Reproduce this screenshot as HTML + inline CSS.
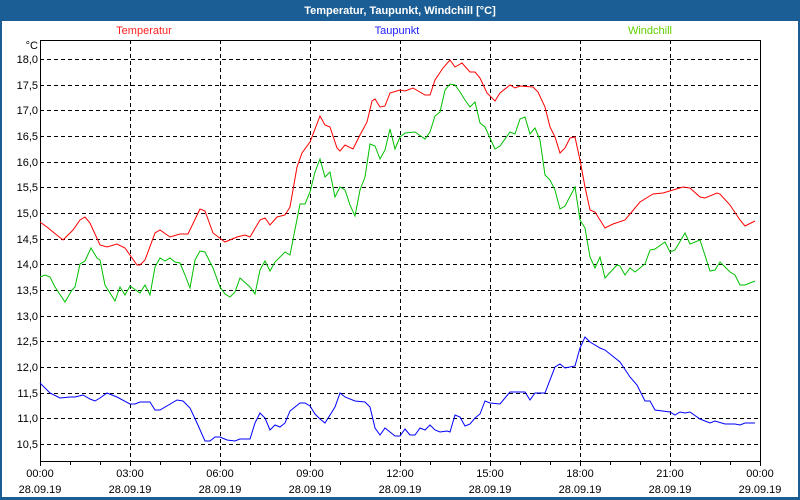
<!DOCTYPE html>
<html><head><meta charset="utf-8"><style>
html,body{margin:0;padding:0;background:#fff}
svg{display:block}
text{font-family:"Liberation Sans","DejaVu Sans",sans-serif;font-size:11px}
</style></head><body>
<svg width="800" height="500" viewBox="0 0 800 500" xmlns="http://www.w3.org/2000/svg">
<rect x="0" y="0" width="800" height="500" fill="#1b5e95"/>
<rect x="2" y="21" width="796" height="476" fill="#fff"/>
<text x="400" y="14" fill="#fff" font-weight="bold" text-anchor="middle">Temperatur, Taupunkt, Windchill [°C]</text>
<text x="144" y="34" fill="#ff2020" text-anchor="middle">Temperatur</text>
<text x="397" y="34" fill="#2020ff" text-anchor="middle">Taupunkt</text>
<text x="650" y="34" fill="#60d000" text-anchor="middle">Windchill</text>
<g stroke="#000" stroke-width="1" stroke-dasharray="4,3" shape-rendering="crispEdges">
<line x1="40" x2="760" y1="59.5" y2="59.5"/><line x1="40" x2="760" y1="85.5" y2="85.5"/><line x1="40" x2="760" y1="110.5" y2="110.5"/><line x1="40" x2="760" y1="136.5" y2="136.5"/><line x1="40" x2="760" y1="162.5" y2="162.5"/><line x1="40" x2="760" y1="187.5" y2="187.5"/><line x1="40" x2="760" y1="213.5" y2="213.5"/><line x1="40" x2="760" y1="239.5" y2="239.5"/><line x1="40" x2="760" y1="264.5" y2="264.5"/><line x1="40" x2="760" y1="290.5" y2="290.5"/><line x1="40" x2="760" y1="316.5" y2="316.5"/><line x1="40" x2="760" y1="341.5" y2="341.5"/><line x1="40" x2="760" y1="367.5" y2="367.5"/><line x1="40" x2="760" y1="393.5" y2="393.5"/><line x1="40" x2="760" y1="418.5" y2="418.5"/><line x1="40" x2="760" y1="444.5" y2="444.5"/>
<line y1="40" y2="461" x1="130.5" x2="130.5"/><line y1="40" y2="461" x1="220.5" x2="220.5"/><line y1="40" y2="461" x1="310.5" x2="310.5"/><line y1="40" y2="461" x1="400.5" x2="400.5"/><line y1="40" y2="461" x1="490.5" x2="490.5"/><line y1="40" y2="461" x1="580.5" x2="580.5"/><line y1="40" y2="461" x1="670.5" x2="670.5"/>
</g>
<rect x="40.5" y="40.5" width="720" height="421" fill="none" stroke="#000" shape-rendering="crispEdges"/>
<g stroke="#000" shape-rendering="crispEdges">
<path d="M40.5 461v5M70.5 461v4M100.5 461v4M130.5 461v5M160.5 461v4M190.5 461v4M220.5 461v5M250.5 461v4M280.5 461v4M310.5 461v5M340.5 461v4M370.5 461v4M400.5 461v5M430.5 461v4M460.5 461v4M490.5 461v5M520.5 461v4M550.5 461v4M580.5 461v5M610.5 461v4M640.5 461v4M670.5 461v5M700.5 461v4M730.5 461v4M760.5 461v5"/>
</g>
<g fill="#000" text-anchor="end">
<text x="38" y="49">°C</text>
<text x="38" y="63">18,0</text><text x="38" y="89">17,5</text><text x="38" y="114">17,0</text><text x="38" y="140">16,5</text><text x="38" y="166">16,0</text><text x="38" y="191">15,5</text><text x="38" y="217">15,0</text><text x="38" y="243">14,5</text><text x="38" y="268">14,0</text><text x="38" y="294">13,5</text><text x="38" y="320">13,0</text><text x="38" y="345">12,5</text><text x="38" y="371">12,0</text><text x="38" y="397">11,5</text><text x="38" y="422">11,0</text><text x="38" y="448">10,5</text>
</g>
<g fill="#000" text-anchor="middle">
<text x="40" y="477">00:00</text><text x="40" y="493">28.09.19</text>
<text x="130" y="477">03:00</text><text x="130" y="493">28.09.19</text>
<text x="220" y="477">06:00</text><text x="220" y="493">28.09.19</text>
<text x="310" y="477">09:00</text><text x="310" y="493">28.09.19</text>
<text x="400" y="477">12:00</text><text x="400" y="493">28.09.19</text>
<text x="490" y="477">15:00</text><text x="490" y="493">28.09.19</text>
<text x="580" y="477">18:00</text><text x="580" y="493">28.09.19</text>
<text x="670" y="477">21:00</text><text x="670" y="493">28.09.19</text>
<text x="760" y="477">00:00</text><text x="760" y="493">29.09.19</text>
</g>
<g fill="none" stroke-width="1">
<polyline stroke="#ff0000" points="40,222 47,227 53,232 63,240 73,230 80,220 85,217 90,223 100,245 107,247 117,244 125,248 137,265 140,265 145,260 155,233 160,230 170,237 180,234 188,234 200,209 205,211 213,233 225,242 237,237 245,235 250,237 260,220 265,218 270,225 277,217 285,215 290,207 297,167 302,153 310,142 320,116 325,125 330,127 337,148 340,151 345,145 353,149 360,135 367,122 372,101 375,99 380,107 385,106 390,93 400,90 405,91 413,88 425,95 430,95 435,80 443,68 450,60 455,67 462,63 470,72 475,72 480,78 487,93 495,101 500,93 510,85 515,88 520,86 533,87 538,92 545,107 550,127 555,137 560,153 565,148 570,138 575,137 580,160 585,187 590,210 595,212 605,228 613,224 625,220 630,214 640,202 653,194 663,193 673,190 683,187 690,188 700,197 705,198 717,193 720,194 730,205 740,220 745,226 755,221"/>
<polyline stroke="#00c000" points="40,277 45,275 50,277 55,287 65,302 72,290 75,287 80,264 85,261 91,248 97,258 100,260 105,285 115,301 120,287 125,295 130,286 140,293 145,285 150,295 155,267 160,258 165,261 170,258 175,262 180,263 185,275 190,288 195,260 200,251 205,252 213,268 220,287 225,294 230,297 235,292 240,278 250,287 255,294 260,270 265,261 270,271 275,262 285,252 290,255 300,204 305,204 310,192 315,172 320,159 325,177 330,172 335,197 340,187 345,190 350,205 355,216 360,190 365,177 370,144 375,146 380,159 385,150 390,129 395,149 400,137 405,133 415,132 425,139 430,132 435,116 440,112 445,90 450,84 455,85 460,92 465,100 470,107 475,102 480,123 485,127 495,149 500,146 510,132 515,134 520,119 525,117 530,134 535,128 540,140 545,175 550,180 555,190 560,209 565,206 575,187 580,220 585,228 590,257 595,268 600,257 605,278 617,265 620,266 625,275 630,268 635,272 645,264 650,250 655,249 665,242 670,252 675,250 685,233 690,244 700,240 710,271 715,270 720,262 730,272 735,275 740,285 745,285 755,281"/>
<polyline stroke="#0000ff" points="40,383 50,393 60,398 70,397 75,397 83,395 90,399 95,401 100,398 107,393 117,397 130,404 135,404 140,402 150,402 155,410 160,410 177,400 183,401 190,408 197,423 205,441 210,441 215,437 220,437 227,440 235,441 240,439 250,439 255,423 260,413 265,418 270,430 275,425 280,427 285,423 290,411 300,403 305,403 310,406 315,414 320,419 325,423 335,407 340,393 345,397 355,401 365,402 370,407 375,428 380,435 385,428 390,432 395,436 400,436 405,429 410,435 415,435 420,428 425,430 430,425 435,430 440,432 447,431 450,432 455,415 460,417 465,426 470,424 475,418 480,414 485,401 490,403 500,404 510,392 520,392 525,392 530,400 535,393 545,393 555,367 560,364 565,368 575,366 580,348 585,337 590,342 600,348 605,350 620,362 630,377 637,385 645,401 650,401 655,410 670,412 675,415 680,412 685,413 690,412 700,419 710,423 715,421 725,424 735,424 740,425 745,423 755,423"/>
</g>
</svg>
</body></html>
